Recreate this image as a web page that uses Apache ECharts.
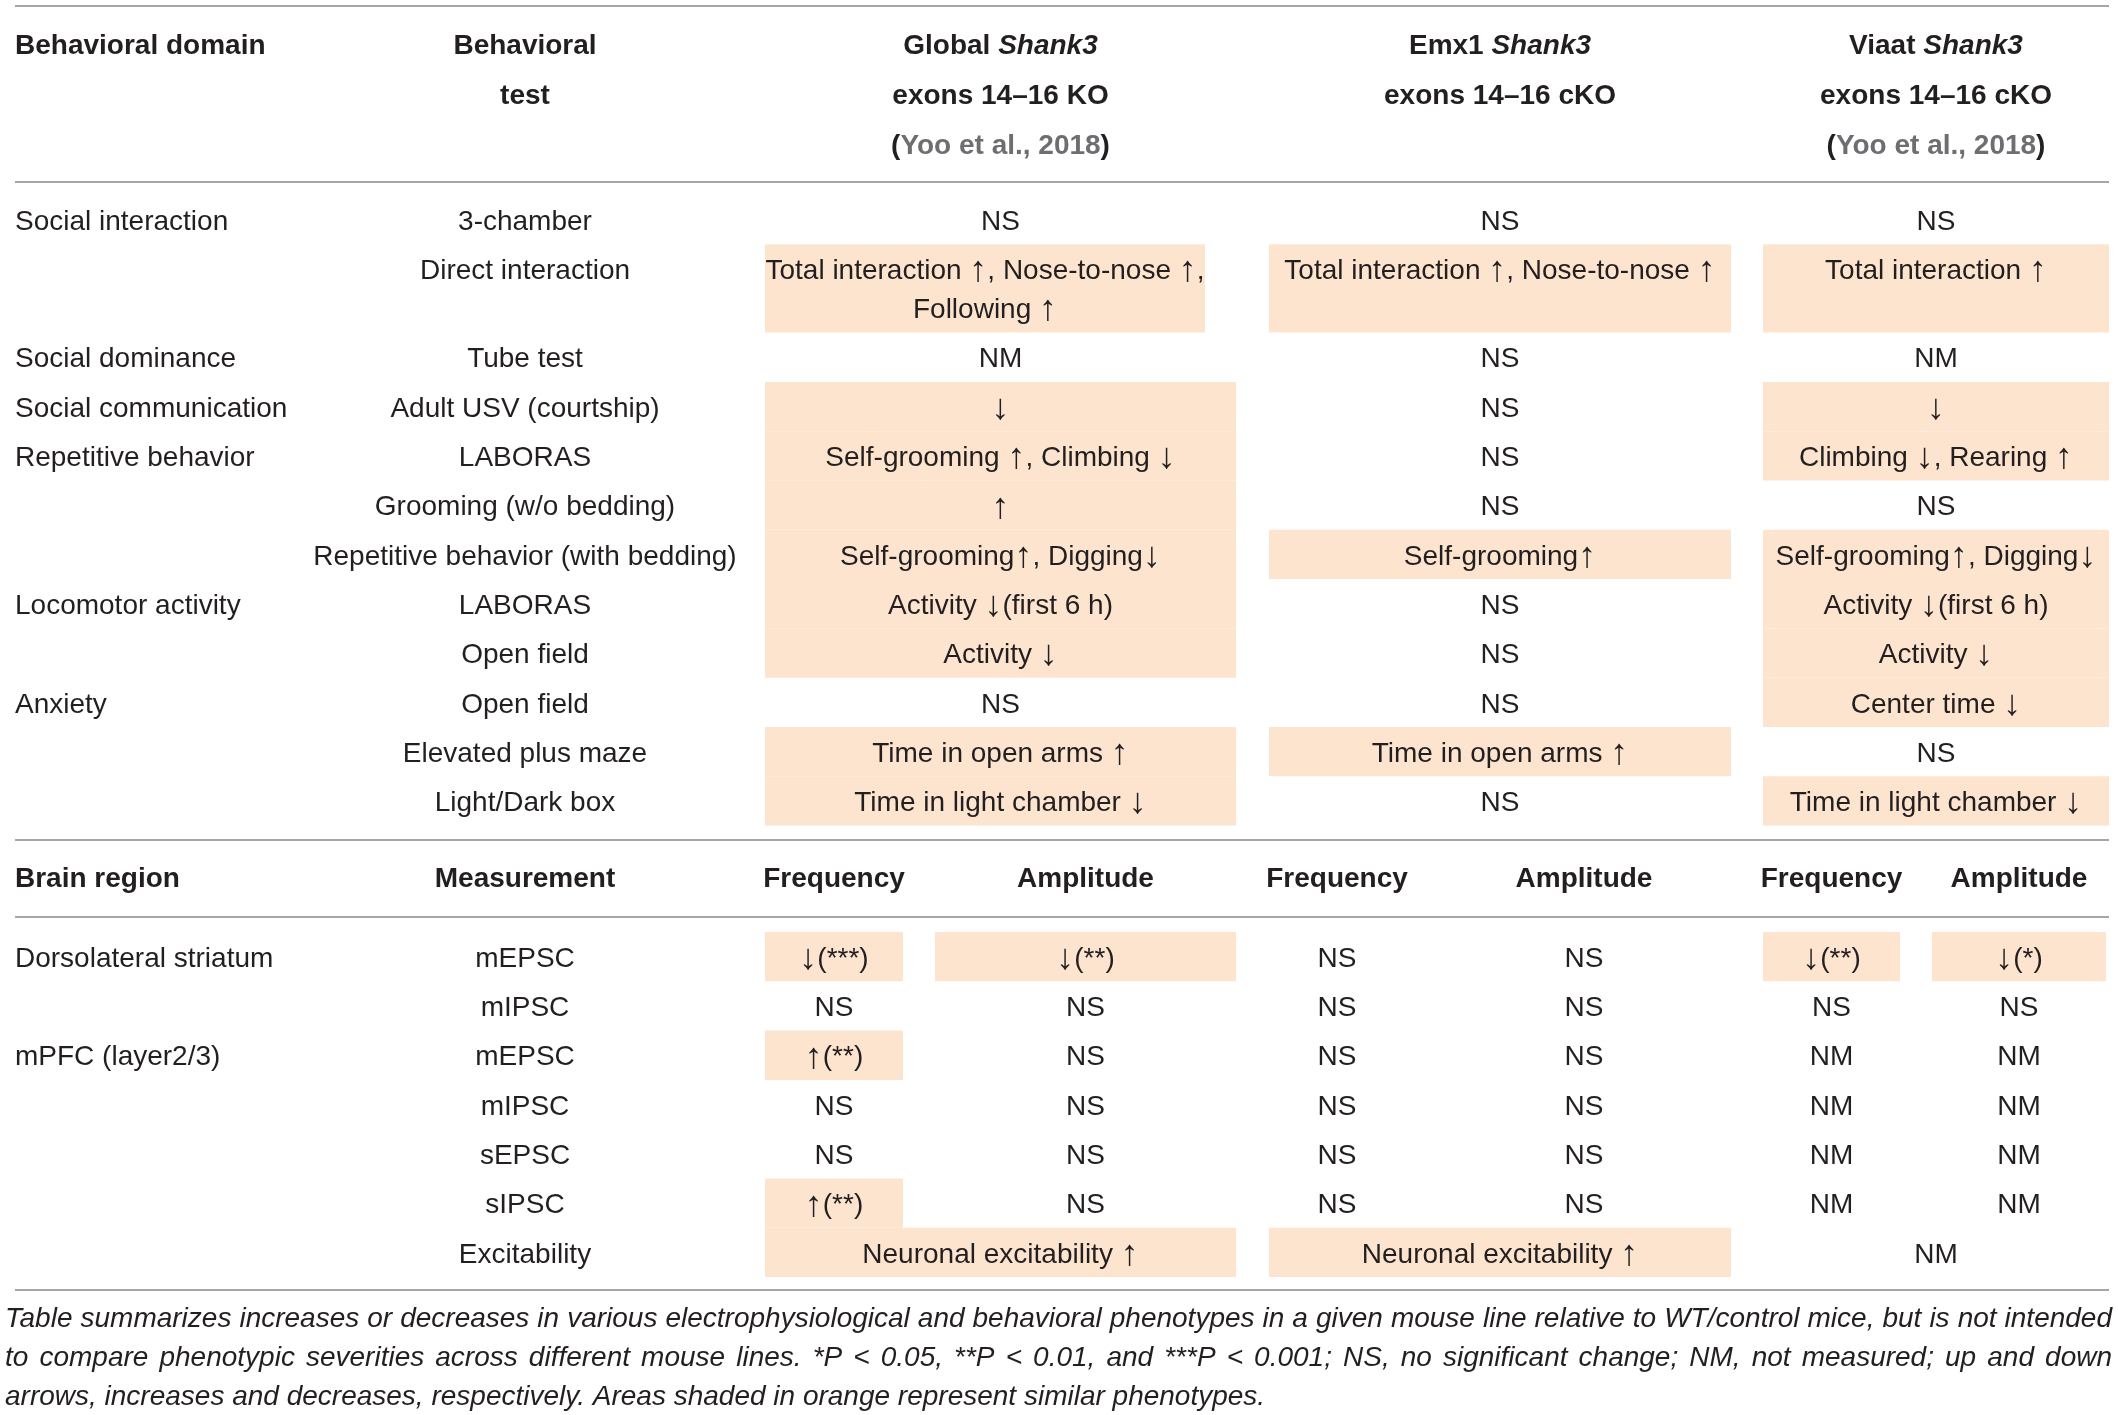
<!DOCTYPE html>
<html lang="en">
<head>
<meta charset="UTF-8">
<title>Shank3 exons 14-16 phenotypes</title>
<script src="https://cdn.jsdelivr.net/npm/echarts@6/dist/echarts.min.js"></script>
<style>
  html, body { margin: 0; padding: 0; background: #fff; }
  #main { width: 2118px; height: 1415px; }
</style>
</head>
<body>
<div id="main"></div>
<script>
// ---- behaviour block ----
var domains = ['Social interaction', '', 'Social dominance', 'Social communication', 'Repetitive behavior', '', '',
               'Locomotor activity', '', 'Anxiety', '', ''];
var tests = ['3-chamber', 'Direct interaction', 'Tube test', 'Adult USV (courtship)', 'LABORAS', 'Grooming (w/o bedding)',
             'Repetitive behavior (with bedding)', 'LABORAS', 'Open field', 'Open field', 'Elevated plus maze', 'Light/Dark box'];
var globalKO = ['NS', 'Total interaction \u2191, Nose-to-nose \u2191,\nFollowing \u2191', 'NM', '\u2193',
                'Self-grooming \u2191, Climbing \u2193', '\u2191', 'Self-grooming\u2191, Digging\u2193', 'Activity \u2193(first 6 h)',
                'Activity \u2193', 'NS', 'Time in open arms \u2191', 'Time in light chamber \u2193'];
var emx1KO = ['NS', 'Total interaction \u2191, Nose-to-nose \u2191', 'NS', 'NS', 'NS', 'NS', 'Self-grooming\u2191',
              'NS', 'NS', 'NS', 'Time in open arms \u2191', 'NS'];
var viaatKO = ['NS', 'Total interaction \u2191', 'NM', '\u2193', 'Climbing \u2193, Rearing \u2191', 'NS',
               'Self-grooming\u2191, Digging\u2193', 'Activity \u2193(first 6 h)', 'Activity \u2193', 'Center time \u2193',
               'NS', 'Time in light chamber \u2193'];
var globalShade = [0, 1, 0, 1, 1, 1, 1, 1, 1, 0, 1, 1];
var emx1Shade   = [0, 1, 0, 0, 0, 0, 1, 0, 0, 0, 1, 0];
var viaatShade  = [0, 1, 0, 1, 1, 0, 1, 1, 1, 1, 0, 1];

// ---- electrophysiology block ----
var regions = ['Dorsolateral striatum', '', 'mPFC (layer2/3)', '', '', '', ''];
var measures = ['mEPSC', 'mIPSC', 'mEPSC', 'mIPSC', 'sEPSC', 'sIPSC', 'Excitability'];
var globalFreq = ['\u2193(***)', 'NS', '\u2191(**)', 'NS', 'NS', '\u2191(**)'];
var globalAmp  = ['\u2193(**)', 'NS', 'NS', 'NS', 'NS', 'NS'];
var emx1Freq   = ['NS', 'NS', 'NS', 'NS', 'NS', 'NS'];
var emx1Amp    = ['NS', 'NS', 'NS', 'NS', 'NS', 'NS'];
var viaatFreq  = ['\u2193(**)', 'NS', 'NM', 'NM', 'NM', 'NM'];
var viaatAmp   = ['\u2193(*)', 'NS', 'NM', 'NM', 'NM', 'NM'];
var globalFreqShade = [1, 0, 1, 0, 0, 1];
var globalAmpShade  = [1, 0, 0, 0, 0, 0];
var viaatFreqShade  = [1, 0, 0, 0, 0, 0];
var viaatAmpShade   = [1, 0, 0, 0, 0, 0];
var excitability = ['Neuronal excitability \u2191', 'Neuronal excitability \u2191', 'NM'];
var excitShade = [1, 1, 0];

var footnote = [
  'Table summarizes increases or decreases in various electrophysiological and behavioral phenotypes in a given mouse line relative to WT/control mice, but is not intended',
  'to compare phenotypic severities across different mouse lines. *P < 0.05, **P < 0.01, and ***P < 0.001; NS, no significant change; NM, not measured; up and down',
  'arrows, increases and decreases, respectively. Areas shaded in orange represent similar phenotypes.'
];

// ---- layout ----
var W = 2118, H = 1415;
var FONT = '"Liberation Sans", Arial, Helvetica, sans-serif';
var INK = '#231f20', LINK = '#6d6e71', SHADE = '#fde4cf', RULE = '#a6a6a6';
var xLeft = 15, xRight = 2109, xTest = 525;
var cols = { global: [765, 1236], emx1: [1269, 1731], viaat: [1763, 2109] };
var subs = { global: [[765, 903], [935, 1236]], emx1: [[1269, 1405], [1437, 1731]], viaat: [[1763, 1900], [1932, 2106]] };
var narrowGlobalDirect = 1205;
var rowH = 49.3, lineH = 39, headLH = 50, textDy = 2.5;
var behTop = 195, ephysTop = 932;
var rules = [6, 182, 840, 917, 1290];
var noteY = [1319, 1358, 1397], noteSize = 28;

var labels = [], shades = [];
function addLabel(x, y, text, o) { labels.push(Object.assign({ x: x, y: y, text: text }, o || {})); }
function cellY(y0) { return y0 + rowH / 2 - lineH / 2 + textDy; }
function cell(x0, x1, y0, y1, text, shade, o) {
  if (shade) shades.push([x0, y0, x1, y1]);
  if (text) addLabel((x0 + x1) / 2, cellY(y0), text, o);
}
function lineCount(t) { return t.split('\n').length; }

// headers
var rich = {
  bi: { fontStyle: 'italic', fontWeight: 'bold', fontSize: 28, fontFamily: FONT, fill: INK, lineHeight: headLH },
  p:  { fontWeight: 'bold', fontSize: 28, fontFamily: FONT, fill: INK, lineHeight: headLH },
  g:  { fontWeight: 'bold', fontSize: 28, fontFamily: FONT, fill: LINK, lineHeight: headLH }
};
var arrowRich = { a: { fontSize: 36, fontFamily: FONT, fill: INK, lineHeight: lineH } };
var hOpt = { bold: true, va: 'middle', lh: headLH, rich: rich };
addLabel(xLeft, 46, 'Behavioral domain', Object.assign({}, hOpt, { align: 'left' }));
addLabel(xTest, 71, 'Behavioral\ntest', hOpt);
addLabel((cols.global[0] + cols.global[1]) / 2, 96, 'Global {bi|Shank3}\nexons 14\u201316 KO\n{p|(}{g|Yoo et al., 2018}{p|)}', hOpt);
addLabel((cols.emx1[0] + cols.emx1[1]) / 2, 71, 'Emx1 {bi|Shank3}\nexons 14\u201316 cKO', hOpt);
addLabel((cols.viaat[0] + cols.viaat[1]) / 2, 96, 'Viaat {bi|Shank3}\nexons 14\u201316 cKO\n{p|(}{g|Yoo et al., 2018}{p|)}', hOpt);

// behaviour rows
var rowTop = behTop;
for (var i = 0; i < tests.length; i++) {
  var n = Math.max(lineCount(globalKO[i]), lineCount(emx1KO[i]), lineCount(viaatKO[i]));
  var rowBot = rowTop + rowH + (n - 1) * lineH;
  if (domains[i]) addLabel(xLeft, cellY(rowTop), domains[i], { align: 'left' });
  addLabel(xTest, cellY(rowTop), tests[i]);
  var gx1 = (n > 1) ? narrowGlobalDirect : cols.global[1];
  cell(cols.global[0], gx1, rowTop, rowBot, globalKO[i], globalShade[i]);
  cell(cols.emx1[0], cols.emx1[1], rowTop, rowBot, emx1KO[i], emx1Shade[i]);
  cell(cols.viaat[0], cols.viaat[1], rowTop, rowBot, viaatKO[i], viaatShade[i]);
  rowTop = rowBot;
}

// electrophysiology sub header
var subY = (rules[2] + rules[3]) / 2 + 1;
var bOpt = { bold: true, va: 'middle' };
addLabel(xLeft, subY, 'Brain region', Object.assign({}, bOpt, { align: 'left' }));
addLabel(xTest, subY, 'Measurement', bOpt);
['global', 'emx1', 'viaat'].forEach(function (k) {
  addLabel((subs[k][0][0] + subs[k][0][1]) / 2, subY, 'Frequency', bOpt);
  addLabel((subs[k][1][0] + subs[k][1][1]) / 2, subY, 'Amplitude', bOpt);
});

// electrophysiology rows
var freq = { global: globalFreq, emx1: emx1Freq, viaat: viaatFreq };
var amp = { global: globalAmp, emx1: emx1Amp, viaat: viaatAmp };
var freqSh = { global: globalFreqShade, emx1: [0, 0, 0, 0, 0, 0], viaat: viaatFreqShade };
var ampSh = { global: globalAmpShade, emx1: [0, 0, 0, 0, 0, 0], viaat: viaatAmpShade };
rowTop = ephysTop;
for (var j = 0; j < measures.length; j++) {
  var bot = rowTop + rowH;
  if (regions[j]) addLabel(xLeft, cellY(rowTop), regions[j], { align: 'left' });
  addLabel(xTest, cellY(rowTop), measures[j]);
  ['global', 'emx1', 'viaat'].forEach(function (k, ci) {
    if (j < freq[k].length) {
      cell(subs[k][0][0], subs[k][0][1], rowTop, bot, freq[k][j], freqSh[k][j]);
      cell(subs[k][1][0], subs[k][1][1], rowTop, bot, amp[k][j], ampSh[k][j]);
    } else {
      cell(cols[k][0], cols[k][1], rowTop, bot, excitability[ci], excitShade[ci]);
    }
  });
  rowTop = bot;
}

// footnote, justified word by word
var words = [];
var ctx = document.createElement('canvas').getContext('2d');
ctx.font = 'italic ' + noteSize + 'px ' + FONT;
footnote.forEach(function (line, li) {
  var ws = line.split(' ');
  var widths = ws.map(function (w) { return ctx.measureText(w).width; });
  var sum = widths.reduce(function (a, b) { return a + b; }, 0);
  var space = ctx.measureText(' ').width;
  var gap = (li < footnote.length - 1) ? (xRight + 3 - 5 - sum) / (ws.length - 1) : space;
  gap = Math.max(gap, space * 0.7);
  var x = 5;
  ws.forEach(function (w, wi) {
    words.push({ x: x, y: noteY[li], text: w });
    x += widths[wi] + gap;
  });
});

var chart = echarts.init(document.getElementById('main'));
chart.setOption({
  animation: false,
  backgroundColor: '#fff',
  grid: { left: 0, right: 0, top: 0, bottom: 0 },
  xAxis: { type: 'value', min: 0, max: W, show: false },
  yAxis: { type: 'value', min: 0, max: H, inverse: true, show: false },
  series: [
    {
      type: 'custom', name: 'shading', silent: true,
      data: shades,
      renderItem: function (params, api) {
        var a = api.coord([api.value(0), api.value(1)]);
        var b = api.coord([api.value(2), api.value(3)]);
        return { type: 'rect', shape: { x: a[0], y: a[1], width: b[0] - a[0], height: b[1] - a[1] },
                 style: { fill: SHADE } };
      }
    },
    {
      type: 'custom', name: 'rules', silent: true,
      data: rules.map(function (y) { return [xLeft, y, xRight, y]; }),
      renderItem: function (params, api) {
        var a = api.coord([api.value(0), api.value(1)]);
        var b = api.coord([api.value(2), api.value(3)]);
        return { type: 'line', shape: { x1: a[0], y1: a[1], x2: b[0], y2: b[1] },
                 style: { stroke: RULE, lineWidth: 2 } };
      }
    },
    {
      type: 'custom', name: 'cells', silent: true,
      data: labels.map(function (l) { return [l.x, l.y]; }),
      renderItem: function (params, api) {
        var l = labels[params.dataIndex];
        var p = api.coord([api.value(0), api.value(1)]);
        var txt = l.rich ? l.text : l.text.replace(/([\u2191\u2193])/g, '{a|$1}');
        return { type: 'text', x: p[0], y: p[1], style: {
          text: txt, fill: INK, fontFamily: FONT, fontSize: 28,
          fontWeight: l.bold ? 'bold' : 'normal',
          align: l.align || 'center', verticalAlign: l.va || 'top',
          lineHeight: l.lh || lineH, rich: l.rich || arrowRich } };
      }
    },
    {
      type: 'custom', name: 'footnote', silent: true,
      data: words.map(function (w) { return [w.x, w.y]; }),
      renderItem: function (params, api) {
        var w = words[params.dataIndex];
        var p = api.coord([api.value(0), api.value(1)]);
        return { type: 'text', x: p[0], y: p[1], style: {
          text: w.text, fill: INK, fontFamily: FONT, fontSize: noteSize, fontStyle: 'italic',
          align: 'left', verticalAlign: 'middle' } };
      }
    }
  ]
});
</script>
</body>
</html>
